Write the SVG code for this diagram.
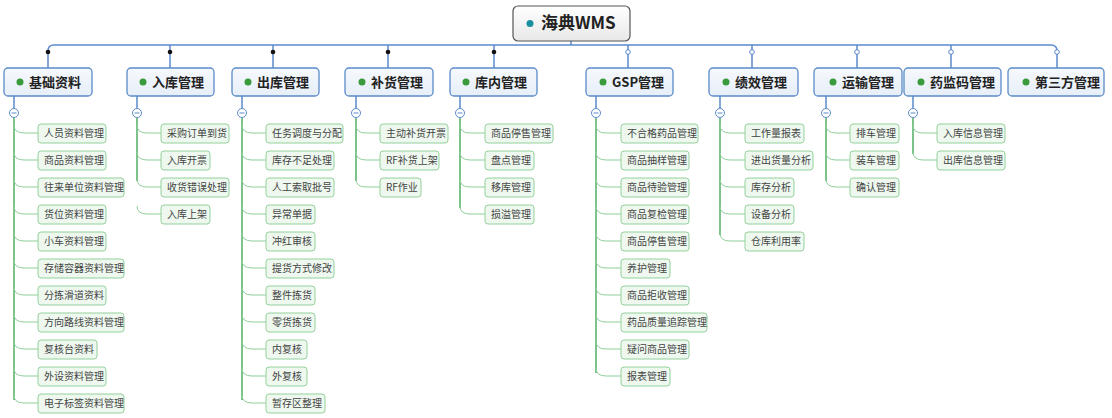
<svg xmlns="http://www.w3.org/2000/svg" width="1112" height="418" viewBox="0 0 1112 418">
<defs>
<linearGradient id="rg" x1="0" y1="0" x2="0" y2="1"><stop offset="0" stop-color="#ffffff"/><stop offset="1" stop-color="#e8e8e8"/></linearGradient>
<linearGradient id="lg" x1="0" y1="0" x2="0" y2="1"><stop offset="0" stop-color="#f6f9fd"/><stop offset="1" stop-color="#e6eef8"/></linearGradient>
</defs>
<style>
text{font-family:"Noto Sans CJK SC","Liberation Sans",sans-serif}
.root rect{fill:url(#rg);stroke:#555;stroke-width:1.2}
.root text{font-size:17px;font-weight:bold;fill:#222}
.l1 rect{fill:url(#lg);stroke:#5b8bc9;stroke-width:1.3}
.l1 text{font-size:13px;font-weight:bold;fill:#222}
.gd{fill:#3b9a3b}
.c rect{fill:#eef8ef;stroke:#93d09c;stroke-width:1}
.c text{font-size:10px;fill:#444}
.hb{fill:none;stroke:#5b8bc9;stroke-width:1.5}
.tr{fill:none;stroke:#7cc28a;stroke-width:2}
.br{fill:none;stroke:#8fcf9a;stroke-width:1}
.col{fill:#fff;stroke:#5b8bc9;stroke-width:1}
</style>
<g id="connectors">
<path class="hb" d="M571 41V45M54 45H1051M48 68V51Q48 45 54 45M170 68V45M273 68V45M388 68V45M494 68V45M628 68V45M752 68V45M857 68V45M951 68V45M1051 45Q1057 45 1057 51V68"/>
<g fill="#111"><circle cx="48" cy="52" r="2.3"/><circle cx="170" cy="52" r="2.3"/><circle cx="273" cy="52" r="2.3"/><circle cx="388" cy="52" r="2.3"/><circle cx="494" cy="52" r="2.3"/></g>
<g fill="#fff" stroke="#5b8bc9" stroke-width="1"><circle cx="628" cy="52" r="2.3"/><circle cx="752" cy="52" r="2.3"/><circle cx="857" cy="52" r="2.3"/><circle cx="951" cy="52" r="2.3"/><circle cx="1057" cy="52" r="2.3"/></g>
<path class="hb" d="M14 96V108M137 96V108M242 96V108M356 96V108M460 96V108M596 96V108M720 96V108M826 96V108M913 96V108"/>
<path class="tr" d="M14 118V400M137 118V181M242 118V400M356 118V181M460 118V208M596 118V373M720 118V235M826 118V181M913 118V154"/>
<path class="br" d="M14 125Q14 133 24 133H38M14 152Q14 160 24 160H38M14 179Q14 187 24 187H38M14 206Q14 214 24 214H38M14 233Q14 241 24 241H38M14 260Q14 268 24 268H38M14 287Q14 295 24 295H38M14 314Q14 322 24 322H38M14 341Q14 349 24 349H38M14 368Q14 376 24 376H38M14 395Q14 403 24 403H38"/>
<path class="br" d="M137 125Q137 133 147 133H161M137 152Q137 160 147 160H161M137 179Q137 187 147 187H161M137 206Q137 214 147 214H161"/>
<path class="br" d="M242 125Q242 133 252 133H266M242 152Q242 160 252 160H266M242 179Q242 187 252 187H266M242 206Q242 214 252 214H266M242 233Q242 241 252 241H266M242 260Q242 268 252 268H266M242 287Q242 295 252 295H266M242 314Q242 322 252 322H266M242 341Q242 349 252 349H266M242 368Q242 376 252 376H266M242 395Q242 403 252 403H266"/>
<path class="br" d="M356 125Q356 133 366 133H380M356 152Q356 160 366 160H380M356 179Q356 187 366 187H380"/>
<path class="br" d="M460 125Q460 133 470 133H485M460 152Q460 160 470 160H485M460 179Q460 187 470 187H485M460 206Q460 214 470 214H485"/>
<path class="br" d="M596 125Q596 133 606 133H621M596 152Q596 160 606 160H621M596 179Q596 187 606 187H621M596 206Q596 214 606 214H621M596 233Q596 241 606 241H621M596 260Q596 268 606 268H621M596 287Q596 295 606 295H621M596 314Q596 322 606 322H621M596 341Q596 349 606 349H621M596 368Q596 376 606 376H621"/>
<path class="br" d="M720 125Q720 133 730 133H745M720 152Q720 160 730 160H745M720 179Q720 187 730 187H745M720 206Q720 214 730 214H745M720 233Q720 241 730 241H745"/>
<path class="br" d="M826 125Q826 133 836 133H850M826 152Q826 160 836 160H850M826 179Q826 187 836 187H850"/>
<path class="br" d="M913 125Q913 133 923 133H937M913 152Q913 160 923 160H937"/>
<g class="col"><circle cx="14" cy="113" r="4.5"/><circle cx="137" cy="113" r="4.5"/><circle cx="242" cy="113" r="4.5"/><circle cx="356" cy="113" r="4.5"/><circle cx="460" cy="113" r="4.5"/><circle cx="596" cy="113" r="4.5"/><circle cx="720" cy="113" r="4.5"/><circle cx="826" cy="113" r="4.5"/><circle cx="913" cy="113" r="4.5"/></g>
<path stroke="#5b8bc9" stroke-width="1.2" d="M11.5 113h5M134.5 113h5M239.5 113h5M353.5 113h5M457.5 113h5M593.5 113h5M717.5 113h5M823.5 113h5M910.5 113h5"/>
</g>
<g id="root" class="root"><rect x="513" y="6" width="117" height="35" rx="5"/><circle cx="530" cy="23.5" r="3.5" fill="#1a8fa0"/><text x="541" y="29">海典WMS</text></g>
<g id="n-jichu" class="l1"><rect x="4" y="68" width="88" height="28" rx="4"/><circle class="gd" cx="20" cy="82" r="3.5"/><text x="29" y="87">基础资料</text></g>
<g id="n-ruku" class="l1"><rect x="127" y="68" width="87" height="28" rx="4"/><circle class="gd" cx="143" cy="82" r="3.5"/><text x="152" y="87">入库管理</text></g>
<g id="n-chuku" class="l1"><rect x="232" y="68" width="87" height="28" rx="4"/><circle class="gd" cx="248" cy="82" r="3.5"/><text x="257" y="87">出库管理</text></g>
<g id="n-buhuo" class="l1"><rect x="345" y="68" width="88" height="28" rx="4"/><circle class="gd" cx="362" cy="82" r="3.5"/><text x="371" y="87">补货管理</text></g>
<g id="n-kunei" class="l1"><rect x="450" y="68" width="87" height="28" rx="4"/><circle class="gd" cx="466" cy="82" r="3.5"/><text x="475" y="87">库内管理</text></g>
<g id="n-gsp" class="l1"><rect x="586" y="68" width="87" height="28" rx="4"/><circle class="gd" cx="603" cy="82" r="3.5"/><text x="612" y="87">GSP管理</text></g>
<g id="n-jixiao" class="l1"><rect x="709" y="68" width="89" height="28" rx="4"/><circle class="gd" cx="726" cy="82" r="3.5"/><text x="735" y="87">绩效管理</text></g>
<g id="n-yunshu" class="l1"><rect x="814" y="68" width="88" height="28" rx="4"/><circle class="gd" cx="833" cy="82" r="3.5"/><text x="842" y="87">运输管理</text></g>
<g id="n-yaojian" class="l1"><rect x="904" y="68" width="97" height="28" rx="4"/><circle class="gd" cx="921" cy="82" r="3.5"/><text x="930" y="87">药监码管理</text></g>
<g id="n-disanfang" class="l1"><rect x="1008" y="68" width="96" height="28" rx="4"/><circle class="gd" cx="1026" cy="82" r="3.5"/><text x="1035" y="87">第三方管理</text></g>
<g class="c">
<g id="c1-1"><rect x="38" y="124" width="68" height="19" rx="3"/><text x="44" y="137">人员资料管理</text></g>
<g id="c1-2"><rect x="38" y="151" width="68" height="19" rx="3"/><text x="44" y="164">商品资料管理</text></g>
<g id="c1-3"><rect x="38" y="178" width="86" height="19" rx="3"/><text x="44" y="191">往来单位资料管理</text></g>
<g id="c1-4"><rect x="38" y="205" width="68" height="19" rx="3"/><text x="44" y="218">货位资料管理</text></g>
<g id="c1-5"><rect x="38" y="232" width="68" height="19" rx="3"/><text x="44" y="245">小车资料管理</text></g>
<g id="c1-6"><rect x="38" y="259" width="86" height="19" rx="3"/><text x="44" y="272">存储容器资料管理</text></g>
<g id="c1-7"><rect x="38" y="286" width="68" height="19" rx="3"/><text x="44" y="299">分拣滑道资料</text></g>
<g id="c1-8"><rect x="38" y="313" width="86" height="19" rx="3"/><text x="44" y="326">方向路线资料管理</text></g>
<g id="c1-9"><rect x="38" y="340" width="59" height="19" rx="3"/><text x="44" y="353">复核台资料</text></g>
<g id="c1-10"><rect x="38" y="367" width="68" height="19" rx="3"/><text x="44" y="380">外设资料管理</text></g>
<g id="c1-11"><rect x="38" y="394" width="86" height="19" rx="3"/><text x="44" y="407">电子标签资料管理</text></g>
<g id="c2-1"><rect x="161" y="124" width="68" height="19" rx="3"/><text x="167" y="137">采购订单到货</text></g>
<g id="c2-2"><rect x="161" y="151" width="49" height="19" rx="3"/><text x="167" y="164">入库开票</text></g>
<g id="c2-3"><rect x="161" y="178" width="68" height="19" rx="3"/><text x="167" y="191">收货错误处理</text></g>
<g id="c2-4"><rect x="161" y="205" width="49" height="19" rx="3"/><text x="167" y="218">入库上架</text></g>
<g id="c3-1"><rect x="266" y="124" width="77" height="19" rx="3"/><text x="272" y="137">任务调度与分配</text></g>
<g id="c3-2"><rect x="266" y="151" width="68" height="19" rx="3"/><text x="272" y="164">库存不足处理</text></g>
<g id="c3-3"><rect x="266" y="178" width="68" height="19" rx="3"/><text x="272" y="191">人工索取批号</text></g>
<g id="c3-4"><rect x="266" y="205" width="49" height="19" rx="3"/><text x="272" y="218">异常单据</text></g>
<g id="c3-5"><rect x="266" y="232" width="49" height="19" rx="3"/><text x="272" y="245">冲红审核</text></g>
<g id="c3-6"><rect x="266" y="259" width="68" height="19" rx="3"/><text x="272" y="272">提货方式修改</text></g>
<g id="c3-7"><rect x="266" y="286" width="49" height="19" rx="3"/><text x="272" y="299">整件拣货</text></g>
<g id="c3-8"><rect x="266" y="313" width="49" height="19" rx="3"/><text x="272" y="326">零货拣货</text></g>
<g id="c3-9"><rect x="266" y="340" width="41" height="19" rx="3"/><text x="272" y="353">内复核</text></g>
<g id="c3-10"><rect x="266" y="367" width="41" height="19" rx="3"/><text x="272" y="380">外复核</text></g>
<g id="c3-11"><rect x="266" y="394" width="59" height="19" rx="3"/><text x="272" y="407">暂存区整理</text></g>
<g id="c4-1"><rect x="380" y="124" width="68" height="19" rx="3"/><text x="386" y="137">主动补货开票</text></g>
<g id="c4-2"><rect x="380" y="151" width="59" height="19" rx="3"/><text x="386" y="164">RF补货上架</text></g>
<g id="c4-3"><rect x="380" y="178" width="41" height="19" rx="3"/><text x="386" y="191">RF作业</text></g>
<g id="c5-1"><rect x="485" y="124" width="68" height="19" rx="3"/><text x="491" y="137">商品停售管理</text></g>
<g id="c5-2"><rect x="485" y="151" width="49" height="19" rx="3"/><text x="491" y="164">盘点管理</text></g>
<g id="c5-3"><rect x="485" y="178" width="49" height="19" rx="3"/><text x="491" y="191">移库管理</text></g>
<g id="c5-4"><rect x="485" y="205" width="49" height="19" rx="3"/><text x="491" y="218">损溢管理</text></g>
<g id="c6-1"><rect x="621" y="124" width="77" height="19" rx="3"/><text x="627" y="137">不合格药品管理</text></g>
<g id="c6-2"><rect x="621" y="151" width="68" height="19" rx="3"/><text x="627" y="164">商品抽样管理</text></g>
<g id="c6-3"><rect x="621" y="178" width="68" height="19" rx="3"/><text x="627" y="191">商品待验管理</text></g>
<g id="c6-4"><rect x="621" y="205" width="68" height="19" rx="3"/><text x="627" y="218">商品复检管理</text></g>
<g id="c6-5"><rect x="621" y="232" width="68" height="19" rx="3"/><text x="627" y="245">商品停售管理</text></g>
<g id="c6-6"><rect x="621" y="259" width="49" height="19" rx="3"/><text x="627" y="272">养护管理</text></g>
<g id="c6-7"><rect x="621" y="286" width="68" height="19" rx="3"/><text x="627" y="299">商品拒收管理</text></g>
<g id="c6-8"><rect x="621" y="313" width="86" height="19" rx="3"/><text x="627" y="326">药品质量追踪管理</text></g>
<g id="c6-9"><rect x="621" y="340" width="68" height="19" rx="3"/><text x="627" y="353">疑问商品管理</text></g>
<g id="c6-10"><rect x="621" y="367" width="49" height="19" rx="3"/><text x="627" y="380">报表管理</text></g>
<g id="c7-1"><rect x="745" y="124" width="59" height="19" rx="3"/><text x="751" y="137">工作量报表</text></g>
<g id="c7-2"><rect x="745" y="151" width="68" height="19" rx="3"/><text x="751" y="164">进出货量分析</text></g>
<g id="c7-3"><rect x="745" y="178" width="49" height="19" rx="3"/><text x="751" y="191">库存分析</text></g>
<g id="c7-4"><rect x="745" y="205" width="49" height="19" rx="3"/><text x="751" y="218">设备分析</text></g>
<g id="c7-5"><rect x="745" y="232" width="59" height="19" rx="3"/><text x="751" y="245">仓库利用率</text></g>
<g id="c8-1"><rect x="850" y="124" width="49" height="19" rx="3"/><text x="856" y="137">排车管理</text></g>
<g id="c8-2"><rect x="850" y="151" width="49" height="19" rx="3"/><text x="856" y="164">装车管理</text></g>
<g id="c8-3"><rect x="850" y="178" width="49" height="19" rx="3"/><text x="856" y="191">确认管理</text></g>
<g id="c9-1"><rect x="937" y="124" width="68" height="19" rx="3"/><text x="943" y="137">入库信息管理</text></g>
<g id="c9-2"><rect x="937" y="151" width="68" height="19" rx="3"/><text x="943" y="164">出库信息管理</text></g>
</g>
</svg>
